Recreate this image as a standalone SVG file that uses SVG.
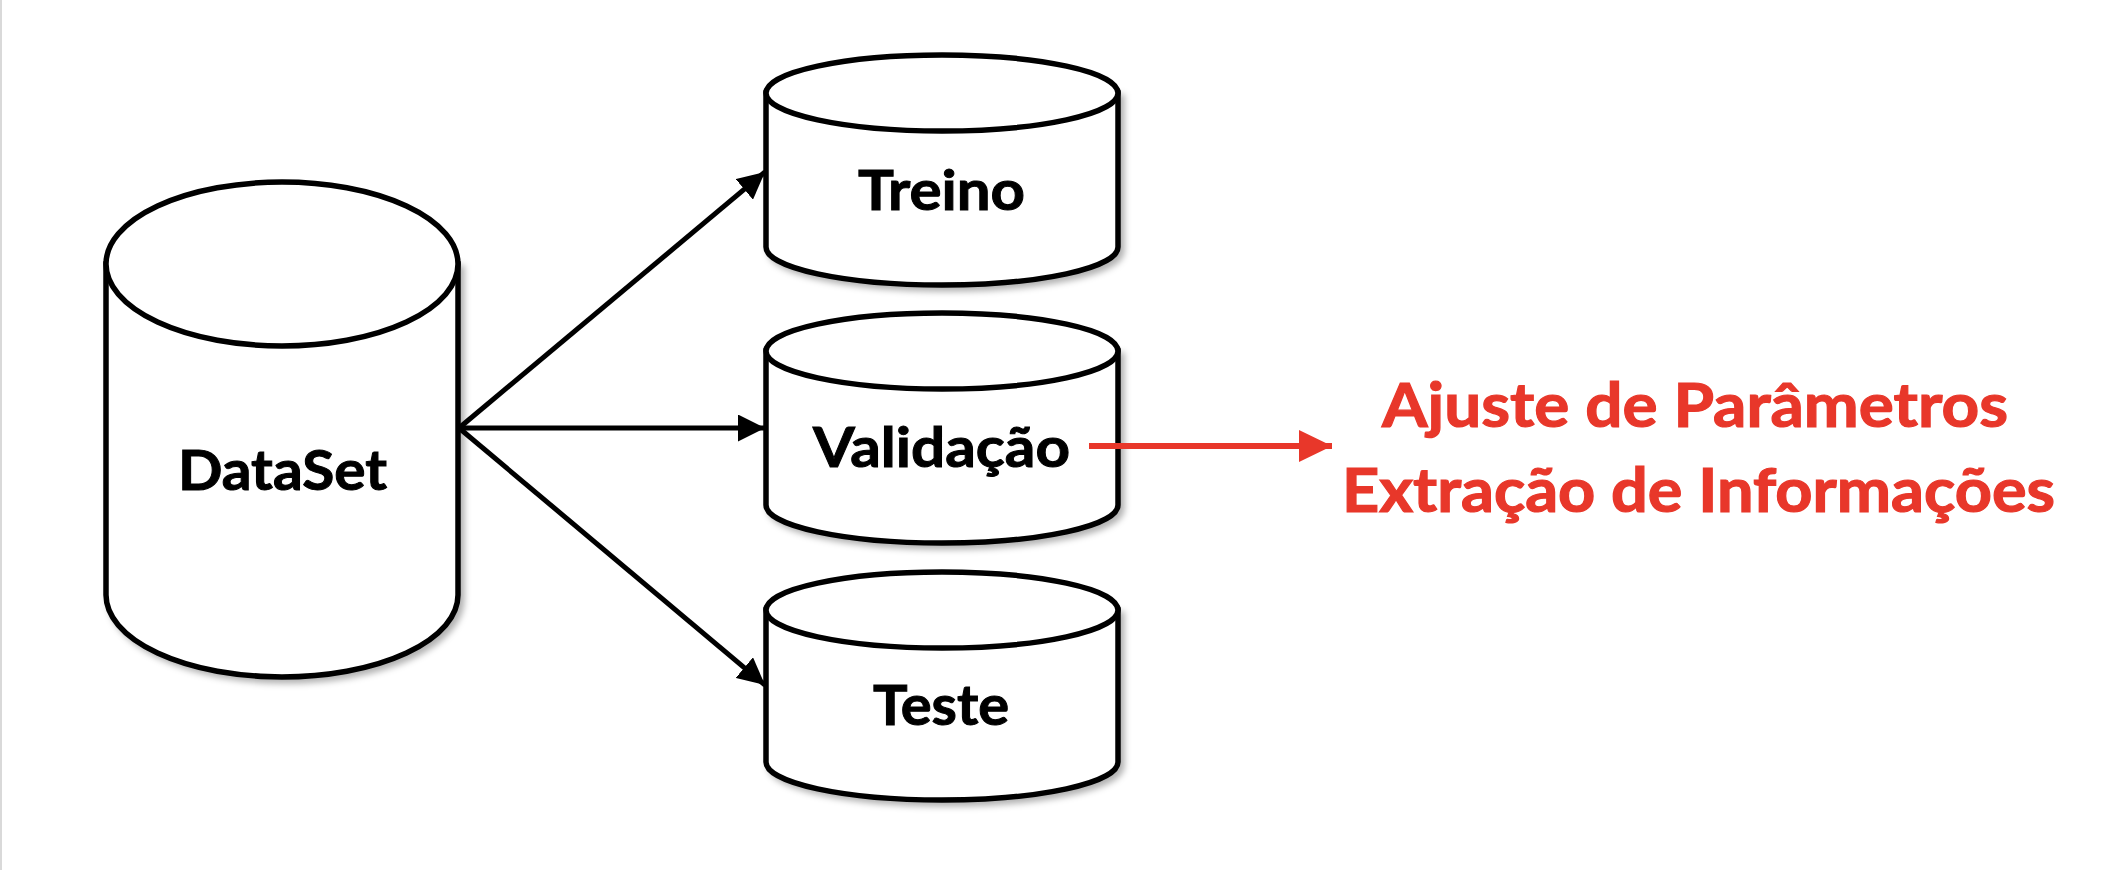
<svg xmlns="http://www.w3.org/2000/svg" width="2104" height="870" viewBox="0 0 2104 870">
  <defs>
    <filter id="shadow" x="-10%" y="-10%" width="125%" height="125%">
      <feDropShadow dx="4" dy="4" stdDeviation="3" flood-color="#000" flood-opacity="0.3"/>
    </filter>
    <marker id="arrowBlack" viewBox="0 0 27 27" refX="27" refY="13.5" markerWidth="27" markerHeight="27" markerUnits="userSpaceOnUse" orient="auto">
      <path d="M0,0 L27,13.5 L0,27 Z" fill="#000"/>
    </marker>
    <marker id="arrowRed" viewBox="0 0 33 32" refX="33" refY="16" markerWidth="33" markerHeight="32" markerUnits="userSpaceOnUse" orient="auto">
      <path d="M0,0 L33,16 L0,32 Z" fill="#E8372A"/>
    </marker>
  </defs>
  <style>
    .cyl { fill: #fff; stroke: #000; stroke-width: 5.5; }
    .lbl { font-family: Lato, "Open Sans", "Liberation Sans", sans-serif; font-weight: bold; font-size: 56px; fill: #000; stroke: #000; stroke-width: 1; }
    .red { font-family: Lato, "Open Sans", "Liberation Sans", sans-serif; font-weight: bold; font-size: 62px; fill: #E8372A; stroke: #E8372A; stroke-width: 1.2; }
    .conn { stroke: #000; stroke-width: 5; fill: none; }
    .connRed { stroke: #E8372A; stroke-width: 6; fill: none; }
  </style>
  <rect x="0" y="0" width="2104" height="870" fill="#fff"/>
  <line x1="1" y1="0" x2="1" y2="870" stroke="#d9d9d9" stroke-width="2"/>

  <g id="dataset">
    <path class="cyl" filter="url(#shadow)" d="M106,264 V595 A176,82 0 0 0 458,595 V264 Z"/>
    <ellipse class="cyl" cx="282" cy="264" rx="176" ry="82"/>
    <text class="lbl" x="178" y="490" textLength="209" lengthAdjust="spacingAndGlyphs">DataSet</text>
  </g>

  <g id="treino">
    <path class="cyl" filter="url(#shadow)" d="M766,93 V247 A176,38 0 0 0 1118,247 V93 Z"/>
    <ellipse class="cyl" cx="942" cy="93" rx="176" ry="38"/>
    <text class="lbl" x="858" y="210" textLength="167" lengthAdjust="spacingAndGlyphs">Treino</text>
  </g>

  <g id="validacao">
    <path class="cyl" filter="url(#shadow)" d="M766,351 V505 A176,38 0 0 0 1118,505 V351 Z"/>
    <ellipse class="cyl" cx="942" cy="351" rx="176" ry="38"/>
    <text class="lbl" x="813" y="467" textLength="257" lengthAdjust="spacingAndGlyphs">Validação</text>
  </g>

  <g id="teste">
    <path class="cyl" filter="url(#shadow)" d="M766,610 V762 A176,38 0 0 0 1118,762 V610 Z"/>
    <ellipse class="cyl" cx="942" cy="610" rx="176" ry="38"/>
    <text class="lbl" x="873" y="725" textLength="136" lengthAdjust="spacingAndGlyphs">Teste</text>
  </g>

  <g id="resultado">
    <text class="red" x="1382" y="427" textLength="626" lengthAdjust="spacingAndGlyphs">Ajuste de Parâmetros</text>
    <text class="red" x="1342" y="512" textLength="713" lengthAdjust="spacingAndGlyphs">Extração de Informações</text>
  </g>

  <g id="connectors">
    <line class="conn" x1="459" y1="428" x2="765" y2="172" marker-end="url(#arrowBlack)"/>
    <line class="conn" x1="459" y1="428" x2="765" y2="428" marker-end="url(#arrowBlack)"/>
    <line class="conn" x1="459" y1="428" x2="765" y2="685" marker-end="url(#arrowBlack)"/>
    <line class="connRed" x1="1089" y1="446" x2="1332" y2="446" marker-end="url(#arrowRed)"/>
  </g>
</svg>
